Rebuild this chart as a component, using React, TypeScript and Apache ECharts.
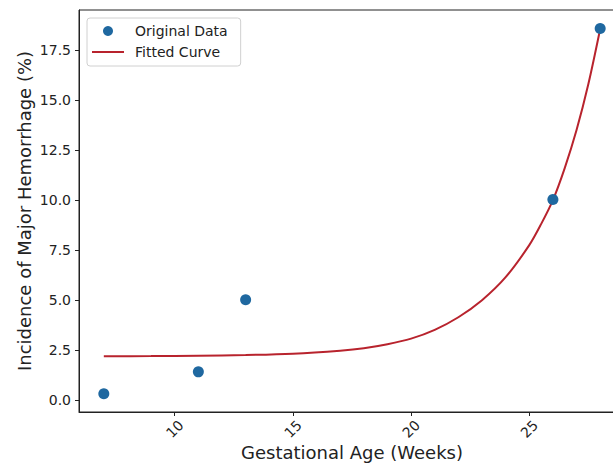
import React, { useEffect, useRef } from "react";
import * as echarts from "echarts";

const originalX = [7, 11, 13, 26, 28];
const originalY = [0.33, 1.42, 5.02, 10.03, 18.58];

const curveX = [7, 9, 11, 13, 15, 17, 18, 19, 20, 21, 22, 23, 24, 25, 25.5, 26, 26.5, 27, 27.5, 28];
const curveY = [2.2, 2.21, 2.23, 2.26, 2.33, 2.48, 2.6, 2.8, 3.08, 3.52, 4.15, 5.0, 6.15, 7.75, 8.8, 10.0, 11.6, 13.5, 15.8, 18.55];

const xTicks = [10, 15, 20, 25];
const yTicks = [0, 2.5, 5, 7.5, 10, 12.5, 15, 17.5];

const FONT = "DejaVu Sans";

export default function App() {
  const ref = useRef<HTMLDivElement>(null);
  useEffect(() => {
    if (!ref.current) return;
    const chart = echarts.init(ref.current, null, { renderer: "svg" });
    chart.setOption({
      animation: false,
      backgroundColor: "#fff",
      textStyle: { fontFamily: FONT },
      grid: {
        left: 79,
        top: 10,
        width: 546,
        height: 402,
        containLabel: false,
        outerBoundsMode: "none",
        show: true,
        borderColor: "#222",
        borderWidth: 1,
        backgroundColor: "transparent",
      },
      legend: {
        orient: "vertical",
        left: 87,
        top: 18,
        padding: [6, 13, 7, 5],
        itemGap: 7,
        itemWidth: 32,
        itemHeight: 10,
        backgroundColor: "#fff",
        borderColor: "#d0d0d0",
        borderWidth: 1,
        borderRadius: 3,
        textStyle: { fontFamily: FONT, fontSize: 14, color: "#222", padding: [0, 0, 0, 6] },
        data: [
          { name: "Original Data", icon: "circle" },
          { name: "Fitted Curve", icon: "path://M0,0 L32,0 L32,2 L0,2 Z" },
        ],
      },
      xAxis: {
        type: "value",
        min: 5.95,
        max: 29.05,
        name: "Gestational Age (Weeks)",
        nameLocation: "middle",
        nameGap: 31,
        nameMoveOverlap: false,
        nameTextStyle: { fontFamily: FONT, fontSize: 18, color: "#222" },
        splitLine: { show: false },
        axisLine: { show: true, onZero: false, lineStyle: { color: "#222", width: 1 } },
        axisTick: { show: true, length: 4, customValues: xTicks, lineStyle: { color: "#222" } },
        axisLabel: {
          customValues: xTicks,
          rotate: 45,
          align: "center",
          verticalAlign: "middle",
          margin: 17,
          fontFamily: FONT,
          fontSize: 14,
          color: "#222",
        },
      },
      yAxis: {
        type: "value",
        min: -0.585,
        max: 19.5,
        name: "Incidence of Major Hemorrhage (%)",
        nameLocation: "middle",
        nameGap: 46,
        nameMoveOverlap: false,
        nameTextStyle: { fontFamily: FONT, fontSize: 18, color: "#222" },
        splitLine: { show: false },
        axisLine: { show: true, onZero: false, lineStyle: { color: "#222", width: 1 } },
        axisTick: { show: true, length: 4, customValues: yTicks, lineStyle: { color: "#222" } },
        axisLabel: {
          customValues: yTicks,
          margin: 8,
          fontFamily: FONT,
          fontSize: 14,
          color: "#222",
          formatter: (v: number) => v.toFixed(1),
        },
      },
      series: [
        {
          name: "Fitted Curve",
          type: "line",
          data: curveX.map((x, i) => [x, curveY[i]]),
          smooth: 0.3,
          symbol: "none",
          lineStyle: { color: "#b8232d", width: 2 },
          itemStyle: { color: "#b8232d" },
          z: 2,
        },
        {
          name: "Original Data",
          type: "scatter",
          data: originalX.map((x, i) => [x, originalY[i]]),
          symbol: "circle",
          symbolSize: 11,
          itemStyle: { color: "#1f68a0", opacity: 1 },
          z: 3,
        },
      ],
    });
    return () => chart.dispose();
  }, []);
  return (
    <div
      ref={ref}
      style={{ position: "absolute", left: 0, top: 0, width: 613, height: 465 }}
    />
  );
}
